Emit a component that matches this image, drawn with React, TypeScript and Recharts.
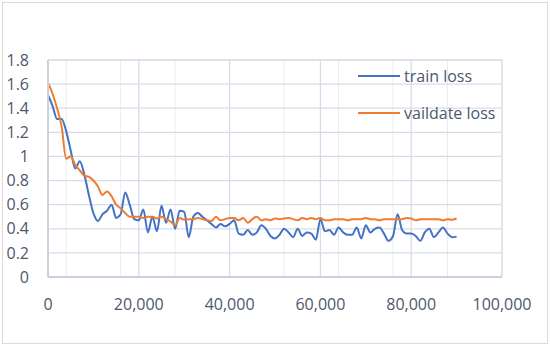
import React from "react";
import {
  LineChart,
  Line,
  XAxis,
  YAxis,
  CartesianGrid,
  Legend,
} from "recharts";

// training steps (x axis)
const steps = [
  0, 1000, 2000, 3000, 4000, 5000, 6000, 7000, 8000, 9000,
  10000, 11000, 12000, 13000, 14000, 15000, 16000, 17000, 18000, 19000,
  20000, 21000, 22000, 23000, 24000, 25000, 26000, 27000, 28000, 29000,
  30000, 31000, 32000, 33000, 34000, 35000, 36000, 37000, 38000, 39000,
  40000, 41000, 42000, 43000, 44000, 45000, 46000, 47000, 48000, 49000,
  50000, 51000, 52000, 53000, 54000, 55000, 56000, 57000, 58000, 59000,
  60000, 61000, 62000, 63000, 64000, 65000, 66000, 67000, 68000, 69000,
  70000, 71000, 72000, 73000, 74000, 75000, 76000, 77000, 78000, 79000,
  80000, 81000, 82000, 83000, 84000, 85000, 86000, 87000, 88000, 89000,
  90000,
];

const trainLoss = [
  1.51, 1.42, 1.31, 1.31, 1.21, 1.05, 0.9, 0.96, 0.85, 0.68,
  0.53, 0.465, 0.52, 0.55, 0.6, 0.49, 0.52, 0.7, 0.6, 0.48,
  0.47, 0.56, 0.37, 0.5, 0.38, 0.59, 0.45, 0.56, 0.4, 0.55,
  0.54, 0.33, 0.5, 0.53, 0.5, 0.47, 0.44, 0.41, 0.44, 0.42,
  0.44, 0.47, 0.36, 0.35, 0.39, 0.35, 0.37, 0.43, 0.4, 0.34,
  0.32, 0.35, 0.4, 0.37, 0.33, 0.4, 0.34, 0.37, 0.36, 0.31,
  0.48, 0.38, 0.39, 0.35, 0.41, 0.37, 0.35, 0.35, 0.41, 0.32,
  0.43, 0.37, 0.4, 0.41, 0.36, 0.3, 0.34, 0.52, 0.39, 0.36,
  0.36, 0.34, 0.3, 0.37, 0.4, 0.33, 0.37, 0.41, 0.36, 0.33,
  0.335,
];

const validateLoss = [
  1.61, 1.52, 1.4, 1.25, 0.98, 1.0, 0.93, 0.885, 0.84, 0.83,
  0.8, 0.75, 0.68, 0.71, 0.67, 0.6, 0.57, 0.53, 0.5, 0.5,
  0.5, 0.49, 0.5, 0.5, 0.485, 0.5, 0.48, 0.46, 0.43, 0.49,
  0.475, 0.48, 0.48, 0.49, 0.48, 0.47, 0.465, 0.5, 0.47, 0.48,
  0.49, 0.49, 0.47, 0.49, 0.45, 0.48, 0.5, 0.47, 0.48, 0.47,
  0.485, 0.48, 0.485, 0.49, 0.48, 0.47, 0.49, 0.48, 0.49, 0.48,
  0.49, 0.47, 0.47, 0.48, 0.48, 0.48, 0.47, 0.48, 0.48, 0.48,
  0.49, 0.48, 0.48, 0.47, 0.48, 0.48, 0.48, 0.48, 0.48, 0.49,
  0.485, 0.47, 0.48, 0.48, 0.48, 0.48, 0.48, 0.47, 0.48, 0.475,
  0.485,
];

const xTicks = [0, 20000, 40000, 60000, 80000, 100000];
const yTicks = [0, 0.2, 0.4, 0.6, 0.8, 1, 1.2, 1.4, 1.6, 1.8];

// minor gridlines: 5 per major interval
const xMinor = Array.from({ length: 26 }, (_, i) => i * 4000);
const yMinor = Array.from({ length: 46 }, (_, i) => Math.round(i * 4) / 100);

const data = steps.map((s, i) => ({
  step: s,
  train: trainLoss[i],
  validate: validateLoss[i],
}));

const FONT = "'Open Sans', 'Liberation Sans', sans-serif";
const TEXT = "#4d586d";
const BLUE = "#4472C4";
const ORANGE = "#ED7D31";

const LegendBox = (props: any) => {
  const items = props.payload || [];
  return (
    <div style={{ fontFamily: FONT, fontSize: 16, color: TEXT }}>
      {items.map((it: any, i: number) => (
        <div
          key={i}
          style={{
            display: "flex",
            alignItems: "center",
            height: 24,
            marginTop: i === 0 ? 0 : 13,
          }}
        >
          <div style={{ width: 42, height: 2, background: it.color, marginRight: 4 }} />
          <span style={{ whiteSpace: "nowrap" }}>{it.value}</span>
        </div>
      ))}
    </div>
  );
};

export default function App() {
  return (
    <div
      style={{
        position: "absolute",
        left: 0,
        top: 0,
        width: 550,
        height: 346,
        background: "#fff",
      }}
    >
      <div
        style={{
          position: "absolute",
          left: 2,
          top: 2,
          width: 544,
          height: 340,
          border: "1px solid #dadada",
        }}
      />
      <div style={{ position: "absolute", left: 0, top: 0 }}>
        <LineChart
          width={550}
          height={346}
          data={data}
          margin={{ top: 60, right: 48, bottom: 39, left: 8 }}
        >
          <XAxis xAxisId="minor" type="number" dataKey="step" domain={[0, 100000]} ticks={xMinor} hide />
          <YAxis yAxisId="minor" type="number" domain={[0, 1.8]} ticks={yMinor} hide />
          <CartesianGrid xAxisId="minor" yAxisId="minor" stroke="#e8ecf2" strokeWidth={1} />
          <CartesianGrid stroke="#d6dce8" strokeWidth={1.3} />
          <XAxis
            type="number"
            dataKey="step"
            domain={[0, 100000]}
            ticks={xTicks}
            tickFormatter={(v: number) => v.toLocaleString("en-US")}
            height={30}
            tickSize={0}
            tickMargin={22}
            axisLine={{ stroke: "#c9d1df", strokeWidth: 2 }}
            tick={{ fill: TEXT, fontSize: 16, fontFamily: FONT }}
          />
          <YAxis
            type="number"
            domain={[0, 1.8]}
            ticks={yTicks}
            tickFormatter={(v: number) => String(Number(v.toFixed(1)))}
            width={40}
            tickSize={0}
            tickMargin={19}
            axisLine={{ stroke: "#c9d1df", strokeWidth: 2 }}
            tick={{ fill: TEXT, fontSize: 16, fontFamily: FONT }}
          />
          <Legend
            layout="horizontal"
            verticalAlign="middle"
            align="center"
            content={<LegendBox />}
            wrapperStyle={{ top: 64, left: 358, width: 170, height: 80 }}
          />
          <Line
            type="monotone"
            dataKey="train"
            name="train loss"
            stroke={BLUE}
            strokeWidth={2}
            dot={false}
            isAnimationActive={false}
          />
          <Line
            type="monotone"
            dataKey="validate"
            name="vaildate loss"
            stroke={ORANGE}
            strokeWidth={2}
            dot={false}
            isAnimationActive={false}
          />
        </LineChart>
      </div>
    </div>
  );
}
